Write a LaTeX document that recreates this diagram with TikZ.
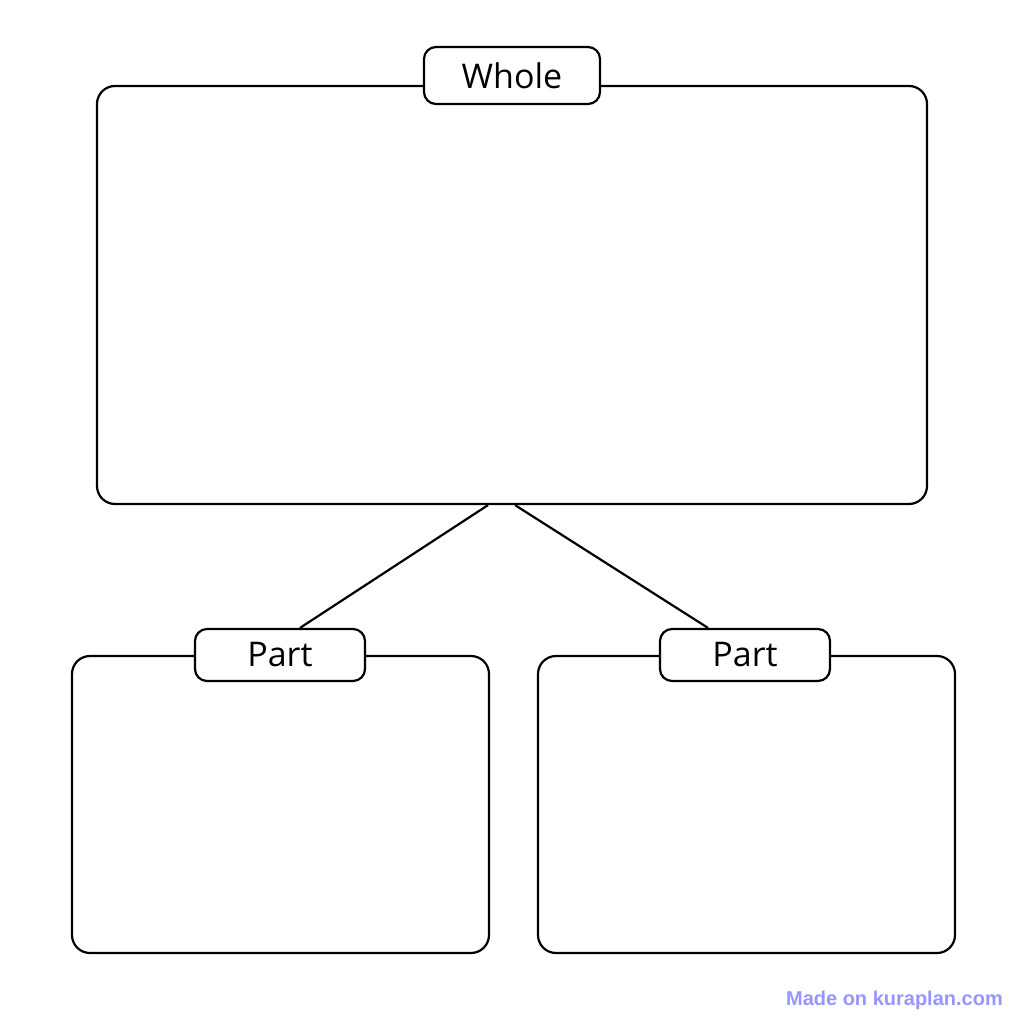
\documentclass[tikz,border=0pt]{standalone}
\usepackage{fontspec}
\setmainfont{Open Sans}
\newfontfamily\markfont{Liberation Sans}
\definecolor{markblue}{RGB}{150,150,255}
\begin{document}
\begin{tikzpicture}[x=1pt,y=-1pt,
  panel/.style={draw=black,line width=2.2pt,rounded corners=18pt,fill=white,inner sep=0pt},
  tag/.style={draw=black,line width=2.2pt,rounded corners=12pt,fill=white,inner sep=0pt,font=\fontsize{34}{36}\selectfont},
  link/.style={draw=black,line width=2.2pt}]
\useasboundingbox (0,0) rectangle (1024,1024);
\fill[white] (0,0) rectangle (1024,1024);
% big box
\node[panel,minimum width=830pt,minimum height=418pt] (whole) at (512,295) {};
\node[tag,minimum width=176pt,minimum height=57pt] (wholetag) at (512,75.5) {Whole};
% part boxes
\node[panel,minimum width=417pt,minimum height=297pt] (partA) at (280.5,804.5) {};
\node[panel,minimum width=417pt,minimum height=297pt] (partB) at (746.5,804.5) {};
\node[tag,minimum width=170pt,minimum height=52pt] (tagA) at (280,655) {Part};
\node[tag,minimum width=170pt,minimum height=52pt] (tagB) at (745,655) {Part};
% connectors
\coordinate (wL) at ([xshift=-24pt]whole.south);
\coordinate (wR) at ([xshift=3pt]whole.south);
\coordinate (aT) at ([xshift=20pt]tagA.north);
\coordinate (bT) at ([xshift=-37pt]tagB.north);
\draw[link] (wL) -- (aT);
\draw[link] (wR) -- (bT);
% watermark
\node[anchor=base east,text=markblue,font=\markfont\bfseries\fontsize{20}{22}\selectfont,inner sep=0pt] (mark) at (1003,1005) {Made on kuraplan.com};
\end{tikzpicture}
\end{document}
